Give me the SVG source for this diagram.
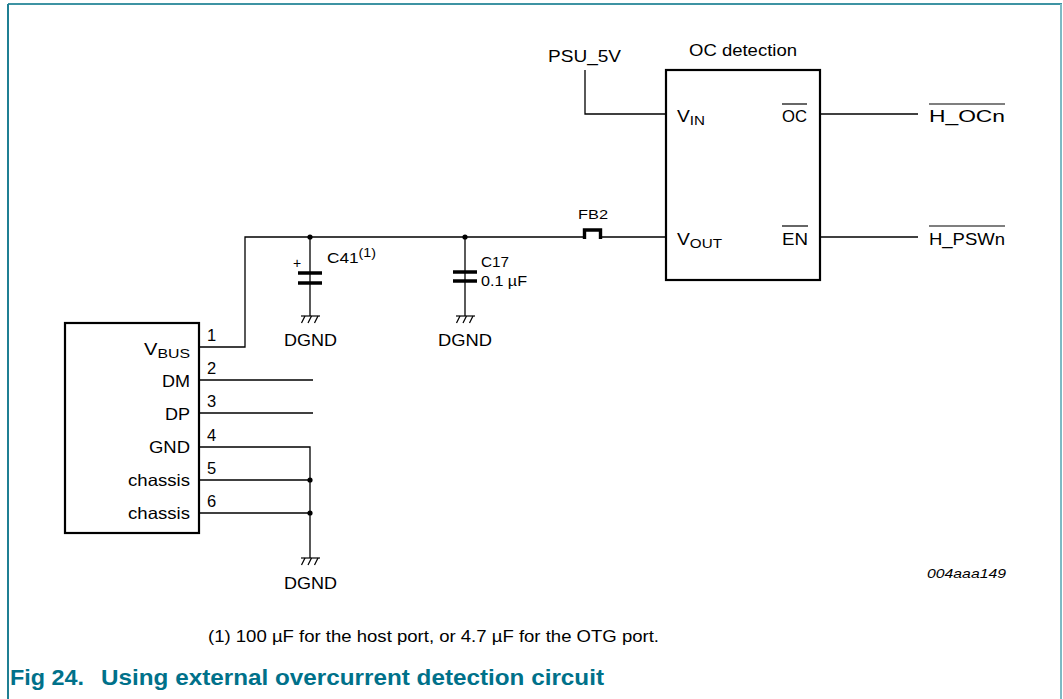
<svg xmlns="http://www.w3.org/2000/svg" width="1063" height="699" viewBox="0 0 1063 699">
<style>
text{font-family:"Liberation Sans",Arial,sans-serif;fill:#000}
.l{font-size:16.5px}
.s{font-size:14.5px}
.sub{font-size:13px}
.w{stroke:#000;stroke-width:1.3;fill:none}
.box{stroke:#000;stroke-width:2.2;fill:#fff}
.plate{stroke:#000;stroke-width:3.5}
.dot{fill:#000}
.ob{stroke:#000;stroke-width:1.2}
.g{stroke:#000;stroke-width:1.2}
</style>
<defs>
<g id="gnd">
<line class="g" x1="-9" y1="0" x2="10" y2="0"/>
<line class="g" x1="-5" y1="0" x2="-8.5" y2="7"/>
<line class="g" x1="1.5" y1="0" x2="-2" y2="7"/>
<line class="g" x1="8" y1="0" x2="4.5" y2="7"/>
</g>
</defs>
<rect width="1063" height="699" fill="#fff"/>
<g id="frame">
<line x1="8" y1="4" x2="1062" y2="4" stroke="#3d93a3" stroke-width="2"/>
<line x1="8" y1="4" x2="8" y2="699" stroke="#1f7f93" stroke-width="2"/>
<line x1="1061" y1="4" x2="1061" y2="699" stroke="#7dbac4" stroke-width="2"/>
</g>
<g id="connectors">
<polyline class="w" points="585,70 585,114 666,114"/>
<line class="w" x1="820" y1="114" x2="918" y2="114"/>
<line class="w" x1="820" y1="237" x2="918" y2="237"/>
<polyline class="w" points="199,347 245,347 245,237 666,237"/>
<line class="w" x1="199" y1="380" x2="313" y2="380"/>
<line class="w" x1="199" y1="413" x2="313" y2="413"/>
<polyline class="w" points="199,447 310,447 310,558"/>
<line class="w" x1="199" y1="480" x2="310" y2="480"/>
<line class="w" x1="199" y1="513" x2="310" y2="513"/>
<circle class="dot" cx="310" cy="237" r="2.6"/>
<circle class="dot" cx="465" cy="237" r="2.6"/>
<circle class="dot" cx="310" cy="480" r="2.6"/>
<circle class="dot" cx="310" cy="513" r="2.6"/>
</g>
<g id="oc-detection">
<rect class="box" x="666" y="70" width="154" height="210"/>
<text class="l" x="689" y="56" textLength="108" lengthAdjust="spacingAndGlyphs">OC detection</text>
<text class="l" x="677" y="122" textLength="28" lengthAdjust="spacingAndGlyphs">V<tspan class="sub" dy="3">IN</tspan></text>
<text class="l" x="677" y="245" textLength="45" lengthAdjust="spacingAndGlyphs">V<tspan class="sub" dy="3">OUT</tspan></text>
<text class="l" x="782" y="122" textLength="25" lengthAdjust="spacingAndGlyphs">OC</text>
<line class="ob" x1="782" y1="104" x2="807" y2="104"/>
<text class="l" x="782" y="245" textLength="26" lengthAdjust="spacingAndGlyphs">EN</text>
<line class="ob" x1="782" y1="226" x2="808" y2="226"/>
</g>
<g id="psu">
<text class="l" x="548" y="62" textLength="73" lengthAdjust="spacingAndGlyphs">PSU_5V</text>
</g>
<g id="h-ocn">
<text class="l" x="929" y="122" textLength="76" lengthAdjust="spacingAndGlyphs">H_OCn</text>
<line class="ob" x1="929" y1="104" x2="1005" y2="104"/>
</g>
<g id="h-pswn">
<text class="l" x="929" y="245" textLength="76" lengthAdjust="spacingAndGlyphs">H_PSWn</text>
<line class="ob" x1="929" y1="226" x2="1005" y2="226"/>
</g>
<g id="fb2">
<rect x="583" y="229" width="19" height="10" fill="#fff" stroke="none"/>
<polyline points="584.5,239 584.5,230 600.5,230 600.5,239" fill="none" stroke="#000" stroke-width="3.4"/>
<text x="578" y="219" font-size="13.5" textLength="30" lengthAdjust="spacingAndGlyphs">FB2</text>
</g>
<g id="c41">
<line class="w" x1="310" y1="237" x2="310" y2="316"/>
<line class="plate" x1="298" y1="273" x2="322" y2="273"/>
<line class="plate" x1="298" y1="283" x2="322" y2="283"/>
<text x="293" y="268" font-size="14">+</text>
<text class="s" x="327" y="263" textLength="49" lengthAdjust="spacingAndGlyphs">C41<tspan font-size="12" dy="-6">(1)</tspan></text>
<use href="#gnd" x="310" y="316"/>
<text class="l" x="284" y="346" textLength="53" lengthAdjust="spacingAndGlyphs">DGND</text>
</g>
<g id="c17">
<line class="w" x1="465" y1="237" x2="465" y2="316"/>
<line class="plate" x1="453" y1="272" x2="477" y2="272"/>
<line class="plate" x1="453" y1="281" x2="477" y2="281"/>
<text class="s" x="481" y="267" textLength="28" lengthAdjust="spacingAndGlyphs">C17</text>
<text class="s" x="481" y="286" textLength="46" lengthAdjust="spacingAndGlyphs">0.1 µF</text>
<use href="#gnd" x="465" y="316"/>
<text class="l" x="438" y="346" textLength="54" lengthAdjust="spacingAndGlyphs">DGND</text>
</g>
<g id="usb-connector">
<rect class="box" x="65" y="323" width="134" height="210"/>
<text class="l" x="144" y="355" textLength="46" lengthAdjust="spacingAndGlyphs">V<tspan class="sub" dy="3">BUS</tspan></text>
<text class="l" x="162" y="387" textLength="28" lengthAdjust="spacingAndGlyphs">DM</text>
<text class="l" x="165" y="420" textLength="25" lengthAdjust="spacingAndGlyphs">DP</text>
<text class="l" x="149" y="453" textLength="41" lengthAdjust="spacingAndGlyphs">GND</text>
<text class="l" x="128" y="486" textLength="62" lengthAdjust="spacingAndGlyphs">chassis</text>
<text class="l" x="128" y="519" textLength="62" lengthAdjust="spacingAndGlyphs">chassis</text>
<text class="l" x="207" y="341">1</text>
<text class="l" x="207" y="374">2</text>
<text class="l" x="207" y="407">3</text>
<text class="l" x="207" y="441">4</text>
<text class="l" x="207" y="474">5</text>
<text class="l" x="207" y="507">6</text>
</g>
<g id="dgnd-bottom">
<use href="#gnd" x="310" y="558"/>
<text class="l" x="284" y="589" textLength="53" lengthAdjust="spacingAndGlyphs">DGND</text>
</g>
<text x="927" y="578" font-size="13.5" font-style="italic" textLength="79" lengthAdjust="spacingAndGlyphs">004aaa149</text>
<text x="208" y="642" font-size="17" textLength="451" lengthAdjust="spacingAndGlyphs">(1) 100 µF for the host port, or 4.7 µF for the OTG port.</text>
<text x="10" y="685" font-size="22" font-weight="bold" style="fill:#00718a" textLength="74" lengthAdjust="spacingAndGlyphs">Fig 24.</text>
<text x="101" y="685" font-size="22" font-weight="bold" style="fill:#00718a" textLength="503" lengthAdjust="spacingAndGlyphs">Using external overcurrent detection circuit</text>
</svg>
